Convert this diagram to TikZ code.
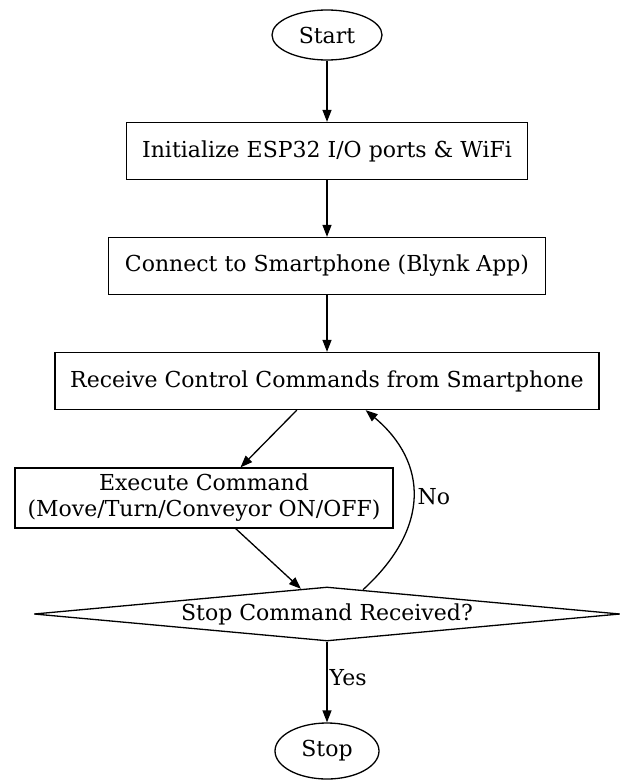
\documentclass[tikz,border=0pt]{standalone}
\usepackage{fontspec}
\setmainfont{DejaVu Serif}
\usetikzlibrary{shapes.geometric, arrows.meta}

\begin{document}
\begin{tikzpicture}[x=1pt, y=-1pt, line width=1.3pt,
    every node/.style={font=\fontsize{22}{26}\selectfont},
    terminal/.style={ellipse, draw, minimum width=110pt, minimum height=50pt, inner sep=0pt},
    process/.style={rectangle, draw, inner sep=0pt},
    decision/.style={diamond, draw, minimum width=586pt, minimum height=54pt, inner sep=0pt, aspect=10.8},
    flow/.style={-{Triangle[length=12pt, width=9pt]}}]
    \useasboundingbox (0,0) rectangle (627,781);

    % Define positions of the nodes from top to bottom
    \node[terminal] (start) at (327, 35) {Start};
    \node[process, minimum width=401pt, minimum height=57pt] (init) at (327, 151) {Initialize ESP32 I/O ports \& WiFi};
    \node[process, minimum width=437pt, minimum height=57pt] (conn) at (327, 266) {Connect to Smartphone (Blynk App)};
    \node[process, minimum width=544pt, minimum height=57pt] (recv) at (327, 381) {Receive Control Commands from Smartphone};
    \node[process, minimum width=378pt, minimum height=60pt, align=center] (exec) at (204, 498) {Execute Command\\(Move/Turn/Conveyor ON/OFF)};
    \node[decision] (stopcmd) at (327, 614) {Stop Command Received?};
    \node[terminal, minimum width=104pt, minimum height=56pt] (stop) at (327, 751) {Stop};

    % Draw edges between consecutive nodes
    \draw[flow] (start) -- (init);
    \draw[flow] (init) -- (conn);
    \draw[flow] (conn) -- (recv);
    \draw[flow] (recv.-136) -- (exec.40);
    \draw[flow] (exec.-44) -- (stopcmd.136);
    \draw[flow] (stopcmd.34) .. controls +(68,-62) and +(62,52) .. node[right, inner sep=4pt] {No} (recv.-37);
    \draw[flow] (stopcmd) -- node[right, pos=0.45, inner sep=2pt] {Yes} (stop);
\end{tikzpicture}
\end{document}
